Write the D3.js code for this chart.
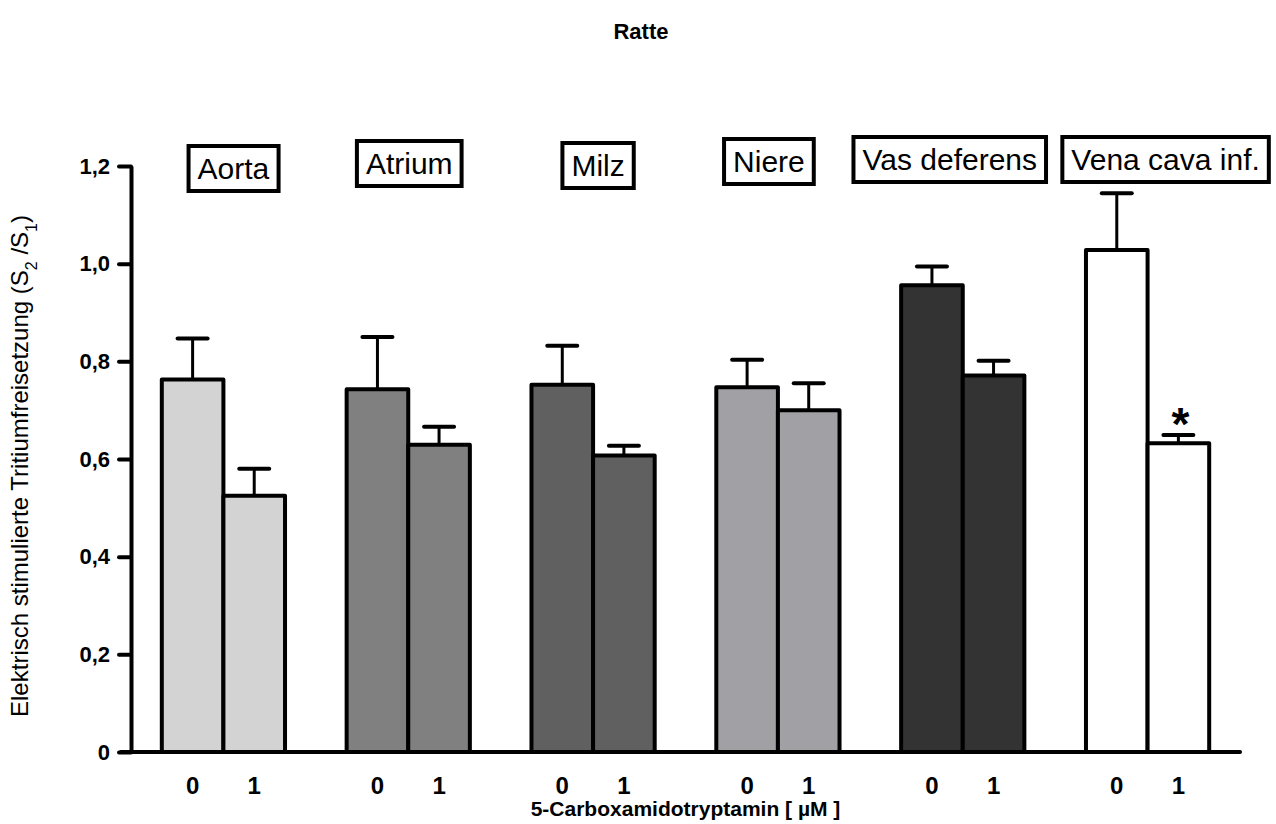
<!DOCTYPE html>
<html>
<head>
<meta charset="utf-8">
<script src="https://cdn.jsdelivr.net/npm/d3@7"></script>
<style>
  body { margin: 0; background: #fff; }
  text { font-family: "Liberation Sans", Arial, sans-serif; }
</style>
</head>
<body>
<svg id="chart" width="1276" height="824"></svg>
<script>
// values
var organs = ["Aorta", "Atrium", "Milz", "Niere", "Vas deferens", "Vena cava inf."];
var doses = ["0", "1"];
var mean0 = [0.763, 0.743, 0.752, 0.747, 0.956, 1.028];
var mean1 = [0.525, 0.629, 0.607, 0.700, 0.771, 0.632];
var sem0 = [0.084, 0.107, 0.080, 0.056, 0.038, 0.116];
var sem1 = [0.055, 0.037, 0.020, 0.055, 0.030, 0.017];
var signif1 = [false, false, false, false, false, true];
var yTicks = [0, 0.2, 0.4, 0.6, 0.8, 1.0, 1.2];

// styles / label placement
var fills = ["#d3d3d3", "#808080", "#606060", "#a1a0a4", "#333333", "#ffffff"];
var labelShift = [10, 1, 5, -9, -13, 18];
var labelTop = [146, 141, 143, 139, 137, 137];

var svg = d3.select("#chart"),
    plotL = 131, plotR = 1240, plotT = 166, plotB = 752;

var x0 = d3.scaleBand()
    .domain(organs)
    .range([plotL, plotR]);
var x1 = d3.scaleBand()
    .domain(doses)
    .range([0, x0.bandwidth()])
    .paddingInner(0)
    .paddingOuter(0.5);
var y = d3.scaleLinear()
    .domain([0, 1.2])
    .range([plotB, plotT]);

var rows = [];
organs.forEach(function(o, i) {
    rows.push({organ: o, dose: "0", v: mean0[i], e: sem0[i], fill: fills[i], star: false});
    rows.push({organ: o, dose: "1", v: mean1[i], e: sem1[i], fill: fills[i], star: signif1[i]});
});

var cx = function(d) { return x0(d.organ) + x1(d.dose) + x1.bandwidth() / 2; };

// title
svg.append("text")
    .attr("x", 641).attr("y", 39)
    .attr("text-anchor", "middle")
    .style("font-weight", "bold").style("font-size", "22px")
    .text("Ratte");

// error bars first, so bar outline sits on top
var err = svg.append("g").selectAll("g")
    .data(rows).enter().append("g");
err.append("line")
    .attr("x1", cx).attr("x2", cx)
    .attr("y1", function(d) { return y(d.v); })
    .attr("y2", function(d) { return y(d.v + d.e); })
    .attr("stroke", "#000").attr("stroke-width", 3);
err.append("line")
    .attr("x1", function(d) { return cx(d) - 15; })
    .attr("x2", function(d) { return cx(d) + 15; })
    .attr("y1", function(d) { return y(d.v + d.e); })
    .attr("y2", function(d) { return y(d.v + d.e); })
    .attr("stroke", "#000").attr("stroke-width", 4)
    .attr("stroke-linecap", "round");

// bars
svg.append("g").selectAll("rect")
    .data(rows).enter().append("rect")
    .attr("x", function(d) { return x0(d.organ) + x1(d.dose); })
    .attr("y", function(d) { return y(d.v); })
    .attr("width", x1.bandwidth())
    .attr("height", function(d) { return plotB - y(d.v); })
    .attr("fill", function(d) { return d.fill; })
    .attr("stroke", "#000")
    .attr("stroke-width", 4)
    .attr("stroke-linejoin", "round");

// significance star
svg.append("g").selectAll("text")
    .data(rows.filter(function(d) { return d.star; }))
    .enter().append("text")
    .attr("x", function(d) { return cx(d) + 2; })
    .attr("y", function(d) { return y(d.v + d.e) + 5; })
    .attr("text-anchor", "middle")
    .style("font-weight", "bold").style("font-size", "46px")
    .text("*");

// y axis
var yAxis = svg.append("g")
    .attr("transform", "translate(" + plotL + ",0)")
    .call(d3.axisLeft(y)
        .tickValues(yTicks)
        .tickSize(12)
        .tickSizeOuter(0)
        .tickPadding(9)
        .tickFormat(function(d) {
            return d === 0 ? "0" : d3.format(".1f")(d).replace(".", ",");
        }));
yAxis.select(".domain").attr("stroke-width", 4);
yAxis.selectAll(".tick line").attr("stroke-width", 4).attr("stroke-linecap", "round");
yAxis.selectAll(".tick text")
    .style("font-size", "22px").style("font-weight", "bold")
    .style("font-family", "'Liberation Sans', Arial, sans-serif");

// x axis
var xAxis = svg.append("g")
    .attr("transform", "translate(0," + plotB + ")")
    .call(d3.axisBottom(x0).tickSize(0).tickSizeOuter(0).tickFormat(""));
xAxis.select(".domain")
    .attr("d", "M" + (plotL - 10) + ",0H" + plotR)
    .attr("stroke-width", 4).attr("stroke-linecap", "round");

svg.append("g").selectAll("text")
    .data(rows).enter().append("text")
    .attr("x", cx)
    .attr("y", plotB + 42)
    .attr("text-anchor", "middle")
    .style("font-weight", "bold").style("font-size", "24px")
    .text(function(d) { return d.dose; });

svg.append("text")
    .attr("x", (plotL + plotR) / 2).attr("y", plotB + 64)
    .attr("text-anchor", "middle")
    .style("font-weight", "bold").style("font-size", "21px")
    .text("5-Carboxamidotryptamin [ µM ]");

// y axis title
var yt = svg.append("text")
    .attr("transform", "translate(28,466) rotate(-90)")
    .attr("text-anchor", "middle")
    .style("font-size", "24px");
yt.append("tspan").text("Elektrisch stimulierte Tritiumfreisetzung (S");
yt.append("tspan").attr("baseline-shift", "sub").style("font-size", "16px").text("2");
yt.append("tspan").text(" /S");
yt.append("tspan").attr("baseline-shift", "sub").style("font-size", "16px").text("1");
yt.append("tspan").text(")");

// organ label boxes
var boxes = svg.append("g").selectAll("g")
    .data(organs).enter().append("g");
boxes.each(function(o, i) {
    var g = d3.select(this);
    var bx = x0(o) + x0.bandwidth() / 2 + labelShift[i];
    var t = g.append("text")
        .attr("x", bx)
        .attr("y", labelTop[i] + 33)
        .attr("text-anchor", "middle")
        .style("font-size", "30px")
        .text(o);
    var bb = t.node().getBBox();
    g.insert("rect", "text")
        .attr("x", bb.x - 9)
        .attr("y", labelTop[i])
        .attr("width", bb.width + 18)
        .attr("height", 45)
        .attr("fill", "#fff")
        .attr("stroke", "#000")
        .attr("stroke-width", 4);
});
</script>
</body>
</html>
